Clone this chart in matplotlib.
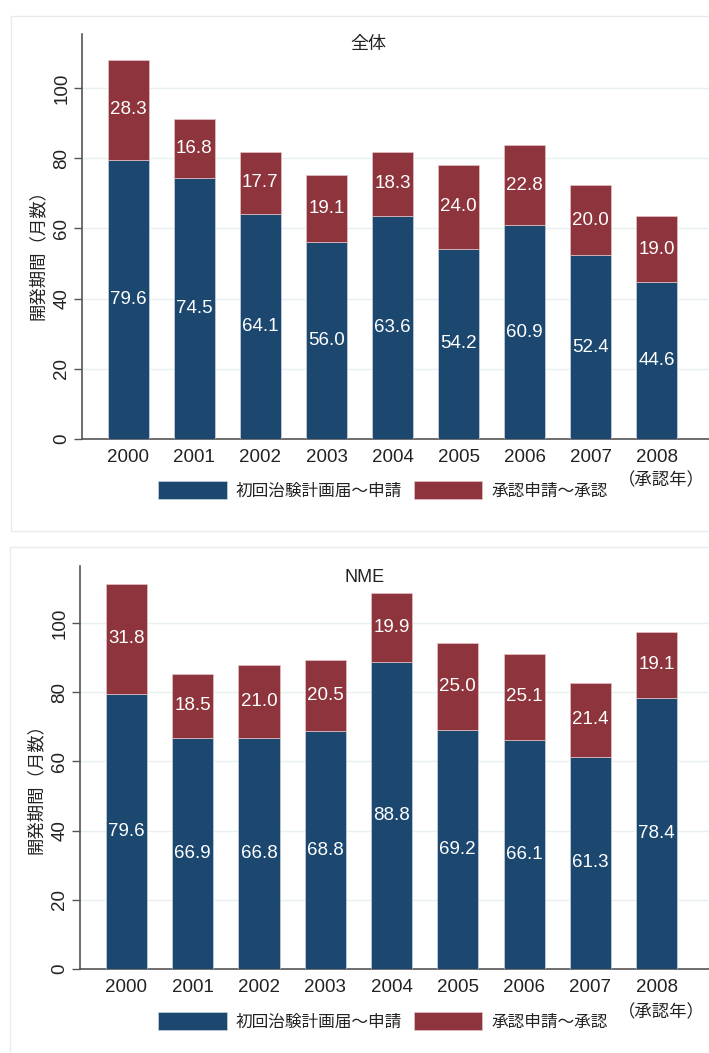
import matplotlib
matplotlib.use("Agg")
import matplotlib.pyplot as plt
from matplotlib.patches import Rectangle, Patch

plt.rcParams['font.family'] = ['Liberation Sans', 'Noto Sans CJK JP', 'DejaVu Sans']

years = ["2000", "2001", "2002", "2003", "2004", "2005", "2006", "2007", "2008"]

# 全体
all_trial = [79.6, 74.5, 64.1, 56.0, 63.6, 54.2, 60.9, 52.4, 44.6]
all_review = [28.3, 16.8, 17.7, 19.1, 18.3, 24.0, 22.8, 20.0, 19.0]

# NME
nme_trial = [79.6, 66.9, 66.8, 68.8, 88.8, 69.2, 66.1, 61.3, 78.4]
nme_review = [31.8, 18.5, 21.0, 20.5, 19.9, 25.0, 25.1, 21.4, 19.1]

legend_labels = ["初回治験計画届～申請", "承認申請～承認"]
y_label = "開発期間（月数）"
x_note = "（承認年）"

BLUE = "#1c4870"
RED = "#8e343c"
W, H = 709, 1053

fig = plt.figure(figsize=(W / 100, H / 100), dpi=100)

# panel frames
fig.patches.append(Rectangle((11 / W, 1 - 531 / H), 1.0, (531 - 16) / H,
                             transform=fig.transFigure, fill=False,
                             edgecolor="#e6ecee", linewidth=1.0))
fig.patches.append(Rectangle((10 / W, -0.1), 1.0, 0.1 + 1 - 547 / H,
                             transform=fig.transFigure, fill=False,
                             edgecolor="#e6ecee", linewidth=1.0))


def panel(rect, trial, review, title, title_xy, ymax, legend_y, note_y,
          ylabel_xy):
    ax = fig.add_axes(rect)
    x = list(range(len(years)))
    ax.bar(x, trial, width=0.62, color=BLUE, edgecolor="#c9d3de",
           linewidth=0.5, zorder=3)
    ax.bar(x, review, width=0.62, bottom=trial, color=RED,
           edgecolor="#e3c3c6", linewidth=0.5, zorder=3)
    for xi, t, r in zip(x, trial, review):
        ax.text(xi, t / 2, f"{t:.1f}", ha="center", va="center",
                color="white", fontsize=13.5, zorder=4)
        ax.text(xi, t + r / 2, f"{r:.1f}", ha="center", va="center",
                color="white", fontsize=13.5, zorder=4)
    ax.set_xlim(-0.7, 8.79)
    ax.set_ylim(0, ymax)
    ax.set_yticks([0, 20, 40, 60, 80, 100])
    ax.set_xticks(x)
    ax.set_xticklabels(years)
    ax.grid(axis="y", color="#e9f0f1", linewidth=1.0, zorder=0)
    ax.set_axisbelow(True)
    for s in ("top", "right"):
        ax.spines[s].set_visible(False)
    ax.spines["left"].set_color("#555555")
    ax.spines["bottom"].set_color("#555555")
    ax.spines["left"].set_linewidth(1.2)
    ax.spines["bottom"].set_linewidth(1.2)
    ax.tick_params(axis="x", length=0, pad=7, labelsize=13.5,
                   labelcolor="#222222")
    ax.tick_params(axis="y", length=5.5, width=1.0, color="#555555",
                   pad=3, labelsize=13.5, labelcolor="#222222",
                   labelrotation=90)
    for lbl in ax.get_yticklabels():
        lbl.set_verticalalignment("center")
    fig.text(ylabel_xy[0] / W, 1 - ylabel_xy[1] / H, y_label, rotation=90,
             ha="center", va="center", fontsize=12.5, color="#222222")
    fig.text(title_xy[0] / W, 1 - title_xy[1] / H, title, ha="center",
             va="center", fontsize=13, color="#222222")
    handles = [Patch(facecolor=BLUE, edgecolor="#c9d3de", linewidth=0.5),
               Patch(facecolor=RED, edgecolor="#e3c3c6", linewidth=0.5)]
    fig.legend(handles, legend_labels, loc="center", ncol=2,
               bbox_to_anchor=(383 / W, 1 - legend_y / H), frameon=False,
               fontsize=12, handlelength=4.1, handleheight=1.2,
               handletextpad=0.55, columnspacing=0.7, labelcolor="#222222")
    fig.text(661 / W, 1 - note_y / H, x_note, ha="center", va="center",
             fontsize=12.5, color="#222222")
    return ax


panel([82 / W, 1 - 439 / H, 1 - 82 / W, (439 - 34) / H],
      all_trial, all_review, "全体", (368, 44), 115.4, 490, 480, (37, 251))
panel([80 / W, 1 - 969 / H, 1 - 80 / W, (969 - 566) / H],
      nme_trial, nme_review, "NME", (365, 577), 116.5, 1021, 1012, (35, 784))

fig.savefig("out.png", dpi=100)
